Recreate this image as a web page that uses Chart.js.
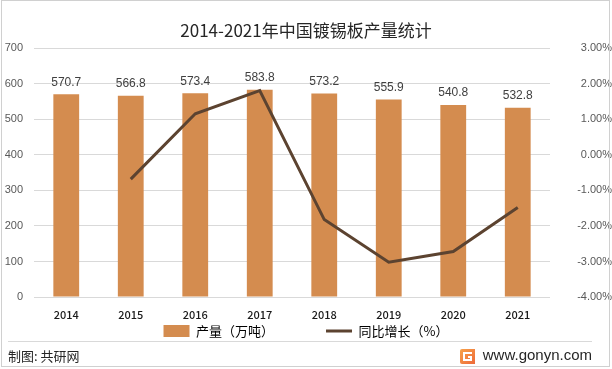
<!DOCTYPE html>
<html><head><meta charset="utf-8">
<script src="https://cdn.jsdelivr.net/npm/chart.js@4/dist/chart.umd.min.js"></script>
<style>html,body{margin:0;padding:0;background:#fff}#wrap{width:612px;height:369px}</style>
</head><body><div id="wrap"><canvas id="c" width="612" height="369"></canvas></div>
<script>
const years = ['2014','2015','2016','2017','2018','2019','2020','2021'];
const output = [570.7, 566.8, 573.4, 583.8, 573.2, 555.9, 540.8, 532.8];
const growth = [null, -0.68, 1.16, 1.81, -1.82, -3.02, -2.72, -1.48];
const titleText = '2014-2021年中国镀锡板产量统计';
const seriesNames = ['产量（万吨）', '同比增长（%）'];
const sourceText = '制图: 共研网';
const siteText = 'www.gonyn.com';

const BAR = '#D48C4F', LINE = '#5C4330', GRID = '#D9D9D9';
const LEG_PAD = 52;
const CJK = '"Noto Sans CJK SC", "Noto Sans", sans-serif';
const LAT = '"Liberation Sans", Arial, sans-serif';

const helper = {
  id: 'helper',
  beforeLayout(chart) {
    const lg = chart.legend;
    if (lg && !lg._patched) {
      lg._patched = true;
      const f = lg.fit.bind(lg);
      lg.fit = function () { f(); this.height = 20; };
      const d = lg.draw.bind(lg);
      lg.draw = function () {
        const h = 13;
        const t = this.top;
        this.top = t + this.height / 2 - LEG_PAD - h / 2;
        d();
        this.top = t;
      };
    }
  },
  beforeDraw(chart) {
    const ctx = chart.ctx;
    ctx.save();
    ctx.fillStyle = '#fff';
    ctx.fillRect(0, 0, chart.width, chart.height);
    ctx.restore();
  },
  afterDatasetsDraw(chart) {
    const ctx = chart.ctx;
    const meta = chart.getDatasetMeta(0);
    ctx.save();
    ctx.font = '12px ' + LAT;
    ctx.fillStyle = '#404040';
    ctx.textAlign = 'center';
    ctx.textBaseline = 'bottom';
    meta.data.forEach((el, i) => {
      ctx.fillText(output[i].toFixed(1), el.x, el.y - 6);
    });
    ctx.restore();
  },
  afterDraw(chart) {
    const ctx = chart.ctx;
    ctx.save();
    ctx.strokeStyle = '#D0D0D0';
    ctx.lineWidth = 1;
    ctx.strokeRect(1.5, 0.5, 608, 366);
    ctx.strokeStyle = GRID;
    ctx.beginPath(); ctx.moveTo(8, 341.5); ctx.lineTo(592, 341.5); ctx.stroke();
    ctx.fillStyle = '#262626';
    ctx.font = '13px ' + CJK;
    ctx.textBaseline = 'middle';
    ctx.textAlign = 'left';
    ctx.fillText(sourceText, 8, 356);
    ctx.font = '15px ' + LAT;
    ctx.textAlign = 'right';
    ctx.fillText(siteText, 592, 356);
    const g = ctx.createLinearGradient(460, 349, 475, 364);
    g.addColorStop(0, '#F7A24A'); g.addColorStop(1, '#EE6A3A');
    ctx.fillStyle = g;
    ctx.beginPath();
    ctx.moveTo(462, 349); ctx.lineTo(475, 349); ctx.lineTo(475, 364); ctx.lineTo(462, 364);
    ctx.quadraticCurveTo(460, 364, 460, 362); ctx.lineTo(460, 351); ctx.quadraticCurveTo(460, 349, 462, 349);
    ctx.fill();
    ctx.fillStyle = '#fff';
    ctx.fillRect(463, 352, 9, 2);
    ctx.fillRect(463, 352, 2, 9);
    ctx.fillRect(463, 359, 9, 2);
    ctx.fillRect(468, 356, 4, 2);
    ctx.fillRect(470, 356, 2, 4);
    ctx.restore();
  }
};

new Chart(document.getElementById('c'), {
  data: {
    labels: years,
    datasets: [
      {
        type: 'bar', label: seriesNames[0], data: output, yAxisID: 'y',
        backgroundColor: BAR, borderWidth: 0, order: 1,
        barPercentage: 0.4, categoryPercentage: 1.0
      },
      {
        type: 'line', label: seriesNames[1], data: growth, yAxisID: 'y1',
        borderColor: LINE, backgroundColor: LINE, borderWidth: 3,
        pointRadius: 0, tension: 0, order: 0, spanGaps: false
      }
    ]
  },
  options: {
    responsive: false,
    animation: false,
    devicePixelRatio: 1,
    layout: { padding: { left: 0, right: 0, top: 0, bottom: 28 } },
    plugins: {
      tooltip: { enabled: false },
      title: {
        display: true, text: titleText, color: '#262626',
        font: { family: CJK, size: 17, weight: 'normal' },
        padding: { top: 20, bottom: 8 }
      },
      legend: {
        position: 'bottom',
        labels: {
          usePointStyle: true,
          pointStyleWidth: 26,
          boxHeight: 12,
          padding: LEG_PAD,
          color: '#262626',
          font: { family: CJK, size: 13 },
          sort: (a, b) => a.datasetIndex - b.datasetIndex,
          generateLabels(chart) {
            return chart.data.datasets.map((ds, i) => ({
              text: ds.label,
              fillStyle: ds.type === 'bar' ? BAR : LINE,
              strokeStyle: ds.type === 'bar' ? BAR : LINE,
              lineWidth: ds.type === 'bar' ? 0 : 3,
              pointStyle: ds.type === 'bar' ? 'rect' : 'line',
              datasetIndex: i,
              hidden: false
            }));
          }
        }
      }
    },
    scales: {
      x: {
        offset: true,
        grid: { display: false },
        border: { display: false },
        ticks: { color: '#1a1a1a', font: { family: CJK, size: 11, weight: 500 }, padding: 3 },
        afterFit(s) { s.height = 24; }
      },
      y: {
        position: 'left', min: 0, max: 700,
        ticks: { stepSize: 100, color: '#595959', font: { family: LAT, size: 11 }, padding: 11 },
        grid: { color: GRID, drawTicks: false, lineWidth: 1 },
        border: { display: false },
        afterFit(s) { s.width = 34; }
      },
      y1: {
        position: 'right', min: -4, max: 3,
        ticks: {
          stepSize: 1, color: '#595959', font: { family: LAT, size: 11 }, padding: 7,
          crossAlign: 'far',
          callback: v => v.toFixed(2) + '%'
        },
        grid: { display: false, drawTicks: false },
        border: { display: false },
        afterFit(s) { s.width = 62; }
      }
    }
  },
  plugins: [helper]
});
</script>
</body></html>
